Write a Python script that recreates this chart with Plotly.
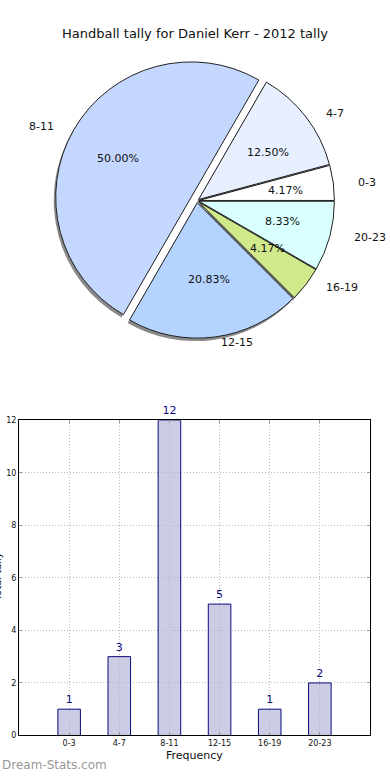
import math
import plotly.graph_objects as go

categories = ["0-3", "4-7", "8-11", "12-15", "16-19", "20-23"]
counts = [1, 3, 12, 5, 1, 2]
pie_colors = ["#ffffff", "#e8f0ff", "#c4d8ff", "#b4d4ff", "#d0e98a", "#d9ffff"]
pulls = [0.015, 0.015, 0.05, 0.015, 0.015, 0.015]
y_ticks = [0, 2, 4, 6, 8, 10, 12]

W, H = 390, 780
FONT = "DejaVu Sans"
TXT = "#111111"


def py(px):
    return 1 - px / H


def pxx(px):
    return px / W


# pie geometry (page pixels)
cx, cy, r = 197, 199, 137
S = 2 * r * (1 + max(pulls))


def pie_domain(dx=0, dy=0):
    return dict(
        x=[pxx(cx + dx - S / 2), pxx(cx + dx + S / 2)],
        y=[py(cy + dy + S / 2), py(cy + dy - S / 2)],
    )


fig = go.Figure()

common = dict(labels=categories, values=counts, sort=False,
              direction="counterclockwise", rotation=75, pull=pulls,
              showlegend=False)

# shadow
fig.add_trace(go.Pie(
    **common, domain=pie_domain(-2, 3),
    marker=dict(colors=["#8a8a8a"] * len(counts), line=dict(width=0)),
    textinfo="none", hoverinfo="skip",
))
# main pie
fig.add_trace(go.Pie(
    **common, domain=pie_domain(),
    marker=dict(colors=pie_colors, line=dict(color="#222222", width=1)),
    textinfo="none",
))

# slice text: labels at 1.1 r, percentages at 0.6 r (ellipse like the source)
annotations = []
total = sum(counts)
rx, ry = 143, 130
start = 0.0
for cat, v, p in zip(categories, counts, pulls):
    frac = v / total
    mid = math.radians((start + frac / 2) * 360)
    start += frac
    c, s = math.cos(mid), math.sin(mid)
    ex = p * rx * c
    ey = p * ry * s
    annotations.append(dict(
        text=f"{frac * 100:.2f}%", x=pxx(198 + ex + 0.6 * rx * c),
        y=py(cy - ey - 0.6 * ry * s), xref="paper", yref="paper",
        xanchor="center", yanchor="middle", showarrow=False,
        font=dict(size=11, family=FONT, color=TXT)))
    annotations.append(dict(
        text=cat, x=pxx(198 + ex + 1.1 * rx * c),
        y=py(cy - ey - 1.1 * ry * s), xref="paper", yref="paper",
        xanchor="left" if c > 0 else "right", yanchor="middle",
        showarrow=False, font=dict(size=11, family=FONT, color=TXT)))

fig.add_trace(go.Bar(
    x=categories, y=counts, width=0.45,
    marker=dict(color="rgba(182,182,216,0.7)", line=dict(color="#0a0a80", width=1)),
    text=[str(v) for v in counts], textposition="outside",
    textfont=dict(family=FONT, size=11, color="#0a0a80"),
    cliponaxis=False, showlegend=False, xaxis="x", yaxis="y",
))

annotations += [
    dict(text="Handball tally for Daniel Kerr - 2012 tally", x=pxx(195), y=py(30),
         xref="paper", yref="paper", xanchor="center", yanchor="middle",
         showarrow=False, font=dict(size=13, family=FONT, color=TXT)),
    dict(text="Frequency", x=pxx(194.5), y=py(760), xref="paper", yref="paper",
         xanchor="center", yanchor="middle", showarrow=False,
         font=dict(size=11, family=FONT, color=TXT)),
    dict(text="Total tally", x=pxx(-3), y=py(580), xref="paper", yref="paper",
         xanchor="center", yanchor="middle", textangle=-90, showarrow=False,
         font=dict(size=10, family=FONT, color=TXT)),
    dict(text="Dream-Stats.com", x=0, y=py(770), xref="paper", yref="paper",
         xanchor="left", yanchor="middle", showarrow=False,
         font=dict(size=12, family=FONT, color="#999999")),
]

grid = dict(showgrid=True, gridcolor="#b8b8b8", griddash="1px,2px", gridwidth=1)

fig.update_layout(
    width=W, height=H,
    margin=dict(l=0, r=0, t=0, b=0),
    paper_bgcolor="white", plot_bgcolor="white",
    font=dict(family=FONT, color=TXT),
    xaxis=dict(
        domain=[pxx(19), pxx(370)], anchor="y", type="category",
        range=[-1, 6], **grid,
        showline=True, linecolor="black", linewidth=1, mirror="ticks",
        ticks="inside", ticklen=3, tickcolor="#999999",
        tickfont=dict(size=8, family=FONT), zeroline=False,
    ),
    yaxis=dict(
        domain=[py(740), py(421)], anchor="x",
        range=[0, 12], tickvals=y_ticks, **grid,
        showline=True, linecolor="black", linewidth=1,
        mirror="ticks", ticks="inside", ticklen=3, tickcolor="#999999",
        tickfont=dict(size=8, family=FONT), zeroline=False,
    ),
    annotations=annotations,
)

fig.write_html("out.html", config={"displayModeBar": False},
               post_script="document.body.style.margin='0';")
